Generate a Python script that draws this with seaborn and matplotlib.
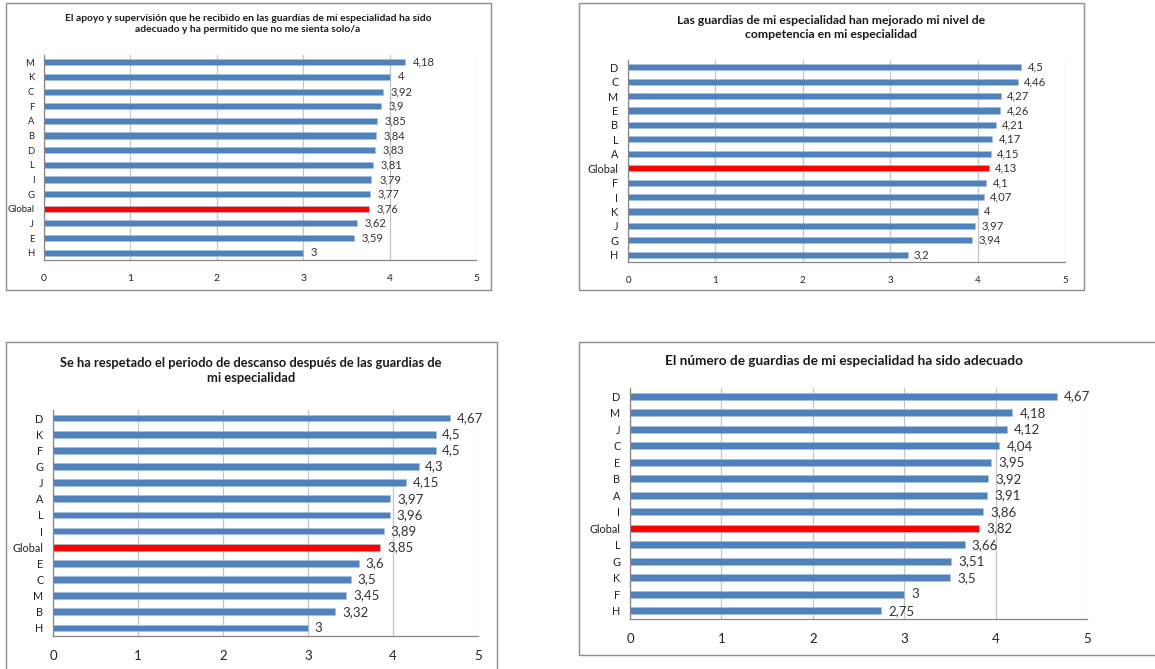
import matplotlib
matplotlib.use("Agg")
import matplotlib.pyplot as plt
from matplotlib.patches import Rectangle
from matplotlib.ticker import FixedLocator
import seaborn as sns
import pandas as pd

# data -------------------------------------------------------------------------
cats_1 = ["M", "K", "C", "F", "A", "B", "D", "L", "I", "G", "Global", "J", "E", "H"]
vals_1 = [4.18, 4, 3.92, 3.9, 3.85, 3.84, 3.83, 3.81, 3.79, 3.77, 3.76, 3.62, 3.59, 3]
title_1 = "El apoyo y supervisión que he recibido en las guardias de mi especialidad ha sido\nadecuado y ha permitido que no me sienta solo/a"

cats_2 = ["D", "C", "M", "E", "B", "L", "A", "Global", "F", "I", "K", "J", "G", "H"]
vals_2 = [4.5, 4.46, 4.27, 4.26, 4.21, 4.17, 4.15, 4.13, 4.1, 4.07, 4, 3.97, 3.94, 3.2]
title_2 = "Las guardias de mi especialidad han mejorado mi nivel de\ncompetencia en mi especialidad"

cats_3 = ["D", "K", "F", "G", "J", "A", "L", "I", "Global", "E", "C", "M", "B", "H"]
vals_3 = [4.67, 4.5, 4.5, 4.3, 4.15, 3.97, 3.96, 3.89, 3.85, 3.6, 3.5, 3.45, 3.32, 3]
title_3 = "Se ha respetado el periodo de descanso después de las guardias de\nmi especialidad"

cats_4 = ["D", "M", "J", "C", "E", "B", "A", "I", "Global", "L", "G", "K", "F", "H"]
vals_4 = [4.67, 4.18, 4.12, 4.04, 3.95, 3.92, 3.91, 3.86, 3.82, 3.66, 3.51, 3.5, 3, 2.75]
title_4 = "El número de guardias de mi especialidad ha sido adecuado"

x_ticks = [0, 1, 2, 3, 4, 5]

# style ------------------------------------------------------------------------
sns.set_style("white")
plt.rcParams['font.family'] = ['Lato', 'DejaVu Sans']

BLUE = "#4F81BD"
RED = "#FF0000"
GRID = "#C4C4C4"
AXIS = "#868686"

W, H = 1155, 669
fig = plt.figure(figsize=(W / 100, H / 100), dpi=100)


def px_rect(left, top, right, bottom):
    return [left / W, 1 - bottom / H, (right - left) / W, (bottom - top) / H]


def draw_panel(cats, vals, title, box, axbox, title_xy, title_size, tick_size, ylab_size, val_size, val_off):
    # outer frame of the chart
    bx = px_rect(*box)
    fig.patches.append(Rectangle((bx[0], bx[1]), bx[2], bx[3], transform=fig.transFigure,
                                 fill=False, edgecolor="#8C8C8C", linewidth=1.0))
    fig.text(title_xy[0] / W, 1 - title_xy[1] / H, title, ha="center", va="top",
             fontsize=title_size, fontweight="bold", color="#1a1a1a", linespacing=1.35)

    ax = fig.add_axes(px_rect(*axbox))
    df = pd.DataFrame({"cat": cats, "val": vals})
    pal = {c: (RED if c == "Global" else BLUE) for c in cats}
    sns.barplot(data=df, x="val", y="cat", hue="cat", palette=pal, legend=False,
                orient="h", width=0.42, ax=ax, saturation=1, edgecolor="#A9C0DE", linewidth=0.4)

    ax.set_xlim(0, 5)
    ax.set_ylim(len(cats) - 0.5, -0.5)
    ax.set_xticks(x_ticks)
    ax.set_xticklabels([str(t) for t in x_ticks], fontsize=tick_size, color="#222222")
    ax.xaxis.grid(True, color=GRID, linewidth=0.9)
    ax.set_axisbelow(True)
    ax.set_xlabel("")
    ax.set_ylabel("")
    for s in ["top", "right"]:
        ax.spines[s].set_visible(False)
    for s in ["left", "bottom"]:
        ax.spines[s].set_color(AXIS)
        ax.spines[s].set_linewidth(0.9)
    ax.tick_params(axis="x", length=4, color=AXIS, direction="out", pad=6)
    ax.tick_params(axis="y", which="major", length=0, labelsize=ylab_size, labelcolor="#222222", pad=7)
    ax.yaxis.set_minor_locator(FixedLocator([i - 0.5 for i in range(len(cats) + 1)]))
    ax.tick_params(axis="y", which="minor", length=4, color=AXIS, direction="out")

    for i, v in enumerate(vals):
        lab = f"{v:g}".replace(".", ",")
        ax.text(v + val_off, i, lab, va="center", ha="left", fontsize=val_size, color="#333333")
    return ax


draw_panel(cats_1, vals_1, title_1, (6, 3, 491, 290), (44, 55, 476, 260), (248, 14), 7.4, 7.5, 6.8, 8, 0.09)
draw_panel(cats_2, vals_2, title_2, (579, 3, 1084, 290), (628, 60, 1065, 262), (831, 15), 8.8, 7.0, 7.8, 8.2, 0.07)
draw_panel(cats_3, vals_3, title_3, (6, 342, 497, 675), (53, 410, 478, 636), (251, 357), 9.3, 9.5, 7.8, 9.5, 0.08)
draw_panel(cats_4, vals_4, title_4, (579, 342, 1162, 655), (630, 388, 1087, 619), (844, 355), 9.8, 9.5, 7.8, 9.5, 0.08)

fig.savefig("out.png", dpi=100)
